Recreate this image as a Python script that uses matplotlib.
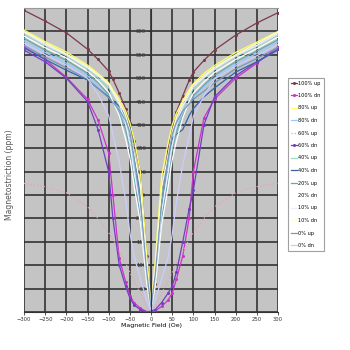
import matplotlib
matplotlib.use("Agg")
import matplotlib.pyplot as plt

# field values (Oe), shared by all series
field = [-300, -250, -200, -150, -125, -100, -90, -75, -60, -50, -40, -25, -10, 0,
         10, 25, 40, 50, 60, 75, 90, 100, 125, 150, 200, 250, 300]

labels = ["100% up", "100% dn", "80% up", "80% dn", "60% up", "60% dn", "40% up",
          "40% dn", "20% up", "20% dn", "10% up", "10% dn", "0% up", "0% dn"]

s01 = [645, 622, 597, 562, 540, 515, 498, 468, 435, 405, 365, 300, 120, 15, 60, 250, 345, 395, 428, 462, 495, 513, 538, 560, 592, 618, 640]
s02 = [567, 540, 502, 455, 410, 340, 250, 115, 65, 35, 20, 8, 1, 0, 2, 12, 25, 40, 70, 120, 200, 300, 415, 455, 500, 532, 567]
s03 = [603, 578, 556, 528, 510, 490, 475, 455, 430, 405, 370, 300, 120, 15, 110, 290, 360, 400, 425, 452, 475, 488, 510, 527, 555, 577, 600]
s04 = [580, 555, 532, 505, 485, 462, 450, 430, 400, 370, 320, 230, 80, 8, 75, 225, 315, 365, 395, 428, 448, 460, 482, 500, 530, 553, 578]
s05 = [275, 268, 255, 225, 200, 170, 155, 130, 105, 85, 65, 40, 12, 3, 12, 40, 65, 85, 105, 130, 155, 170, 200, 225, 255, 268, 275]
s06 = [560, 535, 500, 450, 390, 300, 200, 100, 55, 30, 15, 5, 0, 2, 5, 20, 40, 55, 85, 150, 220, 260, 400, 460, 505, 535, 562]
s07 = [595, 570, 548, 520, 500, 480, 465, 440, 410, 380, 330, 250, 90, 8, 85, 245, 325, 375, 405, 438, 462, 478, 500, 518, 546, 568, 592]
s08 = [565, 540, 517, 496, 478, 460, 452, 440, 420, 395, 340, 240, 80, 15, 70, 230, 330, 370, 380, 390, 420, 435, 460, 479, 513, 535, 560]
s09 = [585, 560, 538, 510, 490, 465, 450, 425, 390, 350, 290, 200, 70, 6, 65, 195, 285, 345, 385, 420, 448, 462, 485, 506, 535, 558, 582]
s10 = [590, 565, 543, 515, 495, 470, 450, 420, 370, 330, 270, 190, 60, 5, 55, 185, 265, 325, 365, 415, 450, 468, 492, 512, 540, 563, 588]
s11 = [598, 572, 550, 522, 505, 485, 468, 445, 405, 360, 300, 220, 75, 10, 70, 215, 295, 355, 400, 440, 465, 482, 502, 520, 548, 570, 595]
s12 = [600, 575, 552, 525, 507, 488, 472, 450, 420, 390, 340, 270, 100, 12, 95, 265, 335, 385, 415, 447, 470, 486, 505, 523, 550, 574, 598]
s13 = [570, 545, 522, 498, 478, 458, 448, 432, 410, 385, 330, 235, 85, 10, 80, 230, 325, 380, 405, 430, 445, 455, 472, 490, 520, 542, 566]
s14 = [575, 550, 528, 500, 465, 420, 380, 320, 240, 170, 120, 70, 25, 3, 25, 70, 115, 165, 235, 315, 375, 418, 462, 498, 526, 548, 572]
series = [s01, s02, s03, s04, s05, s06, s07, s08, s09, s10, s11, s12, s13, s14]

colors = ["#7a3a4a", "#cc33cc", "#ffff66", "#99ccff", "#e8a0c0", "#7040c0", "#99ddcc",
          "#3366aa", "#66aaaa", "#ffffff", "#eeeeff", "#ffffcc", "#7799bb", "#ccccff"]
markers = ["o", "o", None, None, None, "o", None, None, None, None, None, None, None, None]

fig = plt.figure(figsize=(3.5, 3.5), dpi=100)
ax = fig.add_axes([24/350, 1 - 312/350, 254/350, 304/350])
ax.set_facecolor("#c4c4c4")

for ys, lab, c, m in zip(series, labels, colors, markers):
    ls = ":" if c == "#e8a0c0" else "-"
    ax.plot(field, ys, color=c, linewidth=0.9, linestyle=ls, marker=m,
            markersize=2.2, markeredgewidth=0, label=lab)

ax.set_xlim(-300, 300)
ax.set_ylim(0, 650)
ax.set_xticks(range(-300, 301, 50))
ax.set_yticks(range(0, 651, 50))
ax.set_yticklabels([str(v) if 0 < v < 650 else "" for v in range(0, 651, 50)])
ax.grid(True, color="#333333", linewidth=1.2)
ax.set_axisbelow(True)

ax.spines["left"].set_position(("data", 0))
ax.spines["left"].set_color("#333333")
ax.spines["right"].set_visible(False)
ax.spines["top"].set_color("#999999")
ax.spines["bottom"].set_color("#333333")
ax.tick_params(axis="both", labelsize=3.8, length=2, width=0.6, colors="#333333", pad=1.5)

ax.set_xlabel("Magnetic Field (Oe)", fontsize=4.5, labelpad=1)
fig.text(10/350, 0.5, "Magnetostriction (ppm)", rotation=90, fontsize=5.5,
         ha="center", va="center", color="#555555")

leg = fig.legend(loc="upper left", bbox_to_anchor=(285/350, 1 - 75/350), fontsize=3.6,
                 frameon=True, fancybox=False, edgecolor="#888888", handlelength=1.2,
                 labelspacing=1.5, borderpad=0.6, handletextpad=0.4)
leg.get_frame().set_linewidth(0.8)

fig.savefig("out.png", dpi=100)
